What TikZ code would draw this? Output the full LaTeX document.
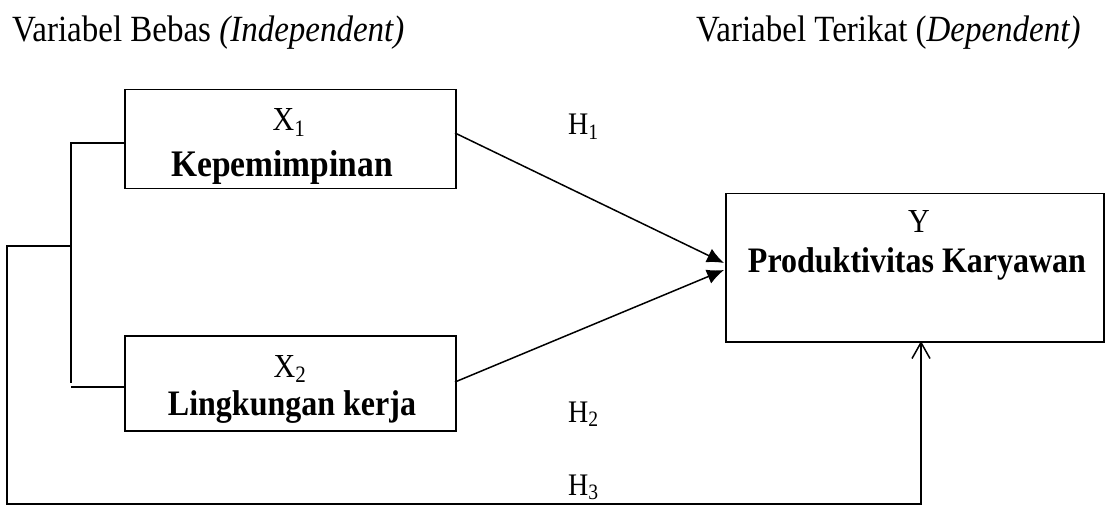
\documentclass[tikz,border=0pt]{standalone}
\usepackage{fontspec}
\setmainfont{Liberation Serif}
\usetikzlibrary{arrows.meta,calc}
\newcommand{\tallt}[1]{\scalebox{1}[1.12]{#1}}
\begin{document}
\begin{tikzpicture}[x=1pt,y=-1pt,
  box/.style={draw,line width=1.5pt,inner sep=0pt,anchor=north west},
  ln/.style={line width=1.5pt},
  head/.style={anchor=base west,inner sep=0pt,font=\fontsize{33}{38}\selectfont},
  bold/.style={anchor=base,inner sep=0pt,font=\fontsize{32}{36}\selectfont\bfseries},
  var/.style={anchor=base,inner sep=0pt,font=\fontsize{30}{34}\selectfont},
  hyp/.style={anchor=base west,inner sep=0pt,font=\fontsize{28}{32}\selectfont},
  fill arrow/.style={ln,-{Latex[length=17pt,width=15pt]}},
  open arrow/.style={ln,-{Straight Barb[length=16pt,width=18pt]}}]
\useasboundingbox (0,0) rectangle (1105,505);
% headings
\node[head] (hb) at (12,42) {\tallt{Variabel Bebas \textit{(Independent)}}};
\node[head] (ht) at (696,42) {\tallt{Variabel Terikat (\textit{Dependent)}}};
% boxes
\node[box,minimum width=331pt,minimum height=99pt] (k1) at (124,89) {};
\node[box,minimum width=331pt,minimum height=95pt] (k2) at (124,335) {};
\node[box,minimum width=378pt,minimum height=148pt] (ky) at (725,193) {};
% box texts
\node[var] (x1) at (289,131) {\tallt{X\textsubscript{1}}};
\node[bold,font=\fontsize{33.5}{38}\selectfont\bfseries] (t1) at (282,177) {\tallt{Kepemimpinan}};
\node[var] (x2) at (290,377) {\tallt{X\textsubscript{2}}};
\node[bold] (t2) at (292,415) {\tallt{Lingkungan kerja}};
\node[var] (yy) at (919,233) {\tallt{Y}};
\node[bold] (ty) at (917,272) {\tallt{Produktivitas Karyawan}};
% hypothesis labels
\node[hyp] (h1) at (568,135) {\tallt{H\textsubscript{1}}};
\node[hyp] (h2) at (568,422) {\tallt{H\textsubscript{2}}};
\node[hyp] (h3) at (568,495) {\tallt{H\textsubscript{3}}};
% coordinates
\coordinate (a1) at (455,133);
\coordinate (a2) at (455,382);
\coordinate (e1) at (724,263);
\coordinate (e2) at (724,270);
\coordinate (b1) at (71,143);
\coordinate (b2) at (71,383);
\coordinate (b3) at (71,387);
\coordinate (bm) at (71,246);
\coordinate (o1) at (7,246);
\coordinate (o2) at (7,504);
\coordinate (o3) at (921,504);
\coordinate (yt) at (921,341);
% arrows to Y
\draw[fill arrow] (a1) -- (e1);
\draw[fill arrow] (a2) -- (e2);
% bracket
\draw[ln] (k1.west |- b1) -- (b1) -- (b2);
\draw[ln] (b3) -- (k2.west |- b3);
\draw[ln] (bm) -- (o1) -- (o2) -- (o3) -- (yt);
\draw[open arrow] (o3) -- (yt);
\end{tikzpicture}
\end{document}
